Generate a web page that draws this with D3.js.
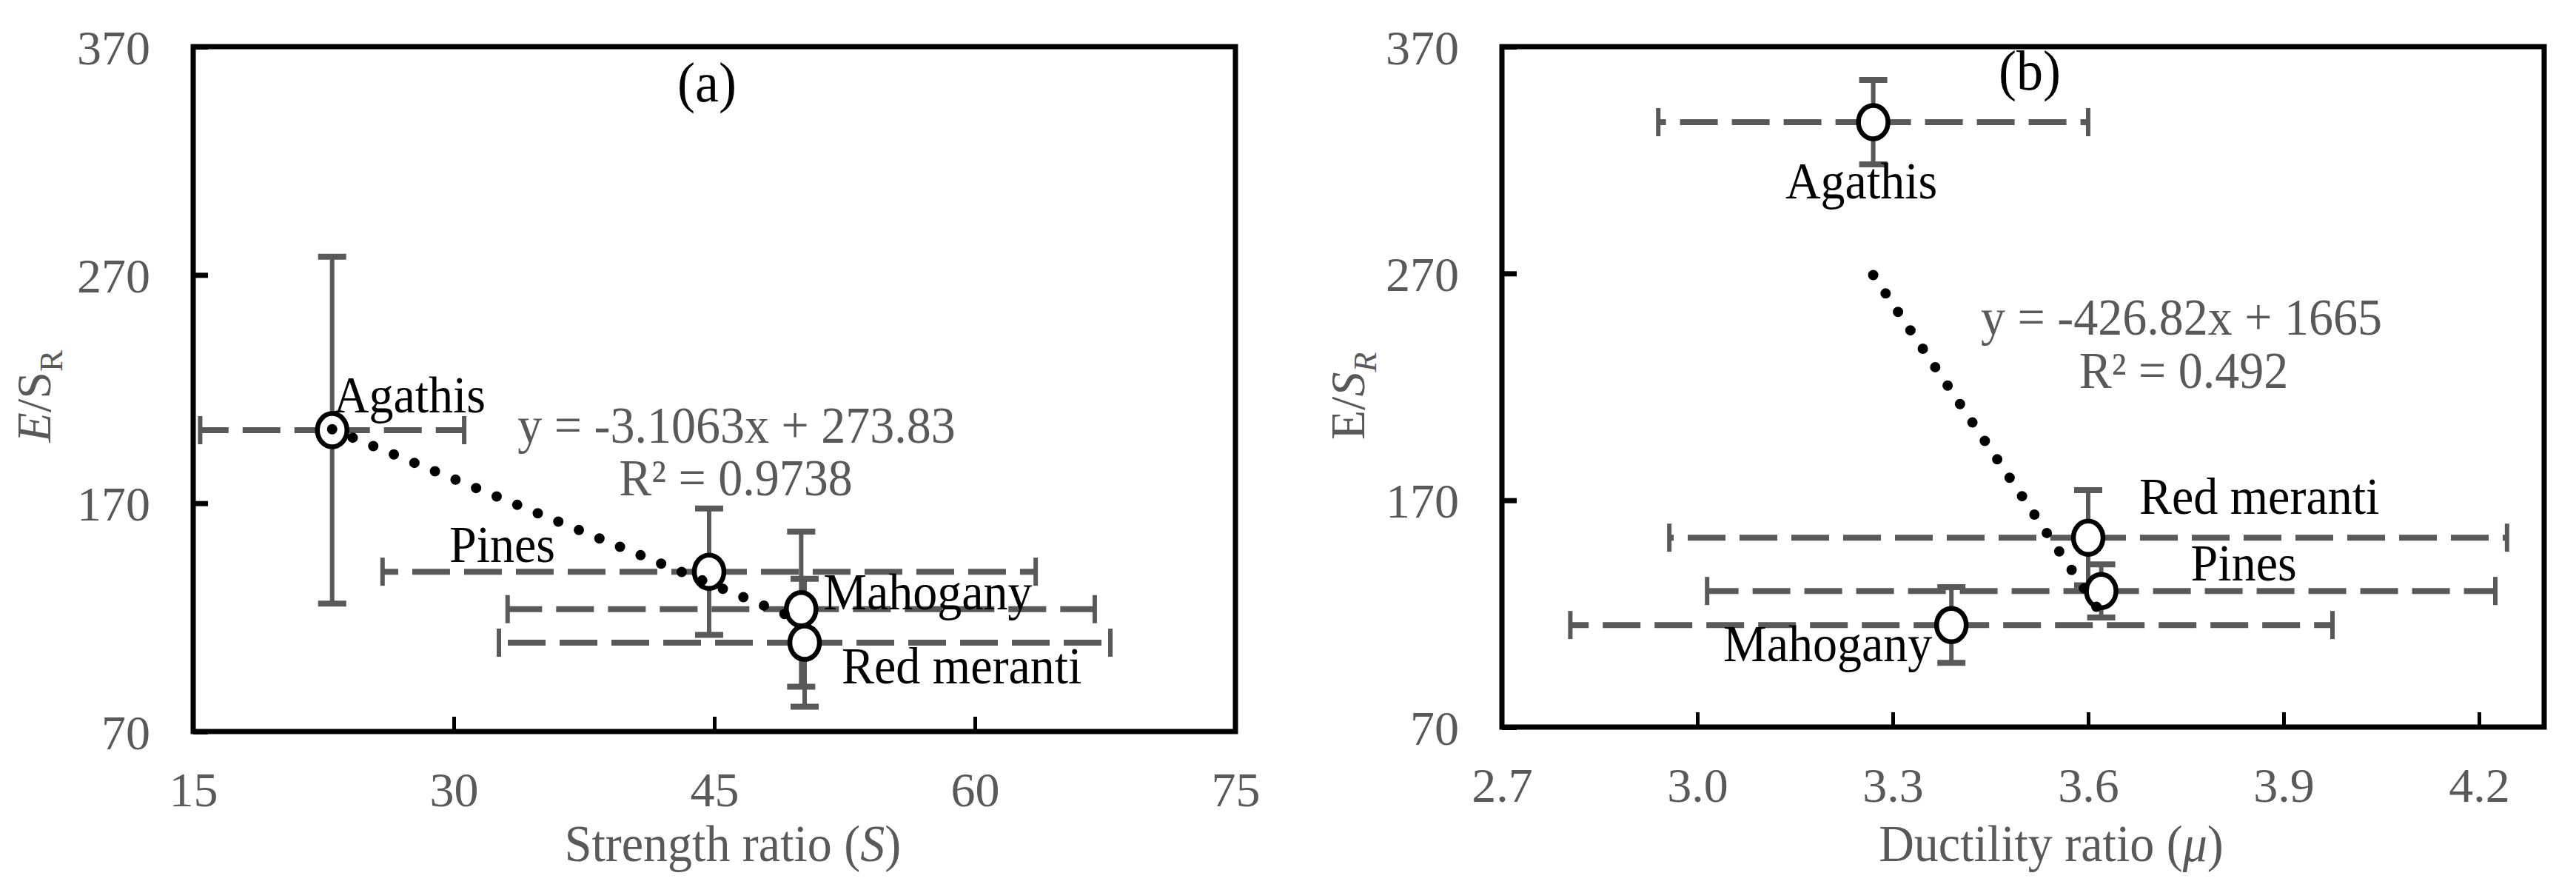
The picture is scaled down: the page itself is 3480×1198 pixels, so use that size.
<!DOCTYPE html>
<html><head><meta charset="utf-8">
<script src="https://cdn.jsdelivr.net/npm/d3@7"></script>
<style>
html,body{margin:0;padding:0;background:#fff;}
svg{display:block;}
</style>
</head><body>
<svg id="chart" width="3480" height="1198"></svg>
<script>
// ---------------- data ----------------
const species = ["Agathis", "Pines", "Mahogany", "Red meranti"];

// panel (a): strength ratio vs E/S_R
const strengthRatio    = [23.0, 44.7, 50.0, 50.2];
const strengthRatioErr = [7.6, 18.8, 16.9, 17.6];
const esrA             = [202.0, 140.0, 123.6, 108.9];
const esrAErr          = [76.0, 27.7, 34.0, 28.0];

// panel (b): ductility ratio vs E/S_R
const ductilityRatio    = [3.27, 3.62, 3.39, 3.60];
const ductilityRatioErr = [0.33, 0.605, 0.585, 0.643];
const esrB              = [336.7, 130.0, 115.0, 153.5];
const esrBErr           = [18.6, 11.7, 16.7, 21.0];

const yTicks  = [70, 170, 270, 370];
const xTicksA = [15, 30, 45, 60, 75];
const xTicksB = [2.7, 3.0, 3.3, 3.6, 3.9, 4.2];

const trendASlope = -3.1063, trendAIntercept = 273.83;
const trendBSlope = -426.82, trendBIntercept = 1665;
const eqTextA = ["y = -3.1063x + 273.83", "R\u00B2 = 0.9738"];
const eqTextB = ["y = -426.82x + 1665", "R\u00B2 = 0.492"];

// ---------------- styles / layout ----------------
const FONT = "'Liberation Serif','Times New Roman',serif";
const GRAY = "#595959";
const FS = 66;

const svg = d3.select("#chart");
svg.append("rect").attr("width", 3480).attr("height", 1198).attr("fill", "#fff");

function drawPanel(cfg) {
  const box = cfg.box;
  const x = d3.scaleLinear().domain(cfg.xDomain).range([box.left, box.right]);
  const y = d3.scaleLinear().domain([70, 370]).range([box.bottom, box.top]);
  const root = svg.append("g").attr("font-family", FONT);

  // x axis
  const gx = root.append("g").attr("transform", `translate(0,${box.bottom})`)
    .call(d3.axisBottom(x).tickValues(cfg.xTicks).tickFormat(cfg.xFmt)
      .tickSizeInner(-20).tickSizeOuter(0).tickPadding(54));
  gx.attr("font-family", FONT).attr("font-size", FS);
  gx.select(".domain").remove();
  gx.selectAll(".tick line").attr("stroke", "#000").attr("stroke-width", 5);
  gx.selectAll(".tick text").attr("fill", GRAY);

  // y axis
  const gy = root.append("g").attr("transform", `translate(${box.left},0)`)
    .call(d3.axisLeft(y).tickValues(yTicks).tickFormat(d3.format("d"))
      .tickSizeInner(-20).tickSizeOuter(0).tickPadding(58));
  gy.attr("font-family", FONT).attr("font-size", FS);
  gy.select(".domain").remove();
  gy.selectAll(".tick line").attr("stroke", "#000").attr("stroke-width", 7);
  gy.selectAll(".tick text").attr("fill", GRAY).attr("dy", "0.35em");

  // frame
  root.append("rect")
    .attr("x", box.left).attr("y", box.top)
    .attr("width", box.right - box.left).attr("height", box.bottom - box.top)
    .attr("fill", "none").attr("stroke", "#000").attr("stroke-width", 7);

  const pts = species.map((name, i) => ({
    name, xv: cfg.xs[i], xe: cfg.xe[i], yv: cfg.ys[i], ye: cfg.ye[i]
  }));

  // horizontal (x) error bars: dashed, drawn from centre outward
  const xg = root.append("g").attr("stroke", GRAY);
  pts.forEach(p => {
    [-1, 1].forEach(s => {
      xg.append("line")
        .attr("x1", x(p.xv)).attr("y1", y(p.yv))
        .attr("x2", x(p.xv + s * p.xe)).attr("y2", y(p.yv))
        .attr("stroke-width", 8).attr("stroke-dasharray", "51 19");
      xg.append("line")
        .attr("x1", x(p.xv + s * p.xe)).attr("x2", x(p.xv + s * p.xe))
        .attr("y1", y(p.yv) - 19).attr("y2", y(p.yv) + 19)
        .attr("stroke-width", 6);
    });
  });

  // vertical (y) error bars
  const yg = root.append("g").attr("stroke", GRAY);
  pts.forEach(p => {
    yg.append("line")
      .attr("x1", x(p.xv)).attr("x2", x(p.xv))
      .attr("y1", y(p.yv - p.ye)).attr("y2", y(p.yv + p.ye))
      .attr("stroke-width", 6);
    [-1, 1].forEach(s => {
      yg.append("line")
        .attr("x1", x(p.xv) - 19).attr("x2", x(p.xv) + 19)
        .attr("y1", y(p.yv + s * p.ye)).attr("y2", y(p.yv + s * p.ye))
        .attr("stroke-width", 8);
    });
  });

  // markers
  root.append("g").selectAll("ellipse").data(pts).join("ellipse")
    .attr("cx", d => x(d.xv)).attr("cy", d => y(d.yv))
    .attr("rx", 20).attr("ry", 22.5)
    .attr("fill", "#fff").attr("stroke", "#000").attr("stroke-width", 6.5);

  // trend line (dotted)
  const ext = d3.extent(cfg.xs);
  const tl = ext.map(v => [x(v), y(cfg.slope * v + cfg.intercept)]);
  root.append("path")
    .attr("d", d3.line()(tl))
    .attr("fill", "none").attr("stroke", "#000").attr("stroke-width", 14)
    .attr("stroke-linecap", "round").attr("stroke-dasharray", "0 30");

  // text helper: slightly taller glyphs, as in the reference
  const SY = 1.05;
  function txt(sel, px, py) {
    return sel.attr("transform", `translate(${px},${py}) scale(1,${SY})`);
  }

  // data labels
  pts.forEach(d => {
    const L = cfg.labels[d.name];
    txt(root.append("text"), x(d.xv) + L.dx, y(d.yv) + L.dy)
      .attr("text-anchor", L.anchor)
      .attr("font-size", FS).attr("fill", "#000")
      .text(d.name);
  });

  // equation
  cfg.eqText.forEach((t, i) => {
    txt(root.append("text"), cfg.eqPos[i][0], cfg.eqPos[i][1])
      .attr("text-anchor", "middle").attr("font-size", FS).attr("fill", GRAY)
      .text(t);
  });

  // panel tag
  txt(root.append("text"), cfg.tagPos[0], cfg.tagPos[1])
    .attr("text-anchor", "middle").attr("font-size", 72).attr("fill", "#000")
    .text(cfg.tag);

  // x title
  const xt = txt(root.append("text"), cfg.xTitlePos[0], cfg.xTitlePos[1])
    .attr("text-anchor", "middle").attr("font-size", FS).attr("fill", GRAY);
  xt.append("tspan").text(cfg.xTitle[0]);
  xt.append("tspan").attr("font-style", "italic").text(cfg.xTitle[1]);
  xt.append("tspan").text(cfg.xTitle[2]);

  // y title
  const yt = root.append("text")
    .attr("transform", `translate(${cfg.yTitlePos[0]},${cfg.yTitlePos[1]}) rotate(-90)`)
    .attr("text-anchor", "middle").attr("font-size", FS).attr("fill", GRAY);
  yt.append("tspan").attr("font-style", cfg.yItal[0] ? "italic" : "normal").text("E");
  yt.append("tspan").attr("font-style", "normal").text("/");
  yt.append("tspan").attr("font-style", cfg.yItal[1] ? "italic" : "normal").text("S");
  yt.append("tspan").attr("font-style", cfg.yItal[1] ? "italic" : "normal")
    .attr("font-size", 44).attr("dy", 16).text("R");
}

drawPanel({
  box: {left: 261, top: 63, right: 1669, bottom: 988},
  xDomain: [15, 75], xTicks: xTicksA, xFmt: d3.format("d"),
  xs: strengthRatio, xe: strengthRatioErr, ys: esrA, ye: esrAErr,
  slope: trendASlope, intercept: trendAIntercept,
  labels: {
    "Agathis": {dx: 2, dy: -24, anchor: "start"},
    "Pines": {dx: -208, dy: -13, anchor: "end"},
    "Mahogany": {dx: 30, dy: 0, anchor: "start"},
    "Red meranti": {dx: 50, dy: 55, anchor: "start"}
  },
  eqText: eqTextA, eqPos: [[995, 598], [994, 669]],
  tag: "(a)", tagPos: [955, 137],
  xTitle: ["Strength ratio (", "S", ")"], xTitlePos: [990, 1163],
  yTitlePos: [68, 535], yItal: [true, false]
});

drawPanel({
  box: {left: 2029, top: 63, right: 3437, bottom: 982},
  xDomain: [2.7, 4.3], xTicks: xTicksB, xFmt: d3.format(".1f"),
  xs: ductilityRatio, xe: ductilityRatioErr, ys: esrB, ye: esrBErr,
  slope: trendBSlope, intercept: trendBIntercept,
  labels: {
    "Agathis": {dx: -16, dy: 103, anchor: "middle"},
    "Pines": {dx: 121, dy: -14, anchor: "start"},
    "Mahogany": {dx: -26, dy: 49, anchor: "end"},
    "Red meranti": {dx: 69, dy: -32, anchor: "start"}
  },
  eqText: eqTextB, eqPos: [[2947, 452], [2950, 524]],
  tag: "(b)", tagPos: [2742, 121],
  xTitle: ["Ductility ratio (", "\u03BC", ")"], xTitlePos: [2771, 1163],
  yTitlePos: [1843, 535], yItal: [false, true]
});
</script>
</body></html>
